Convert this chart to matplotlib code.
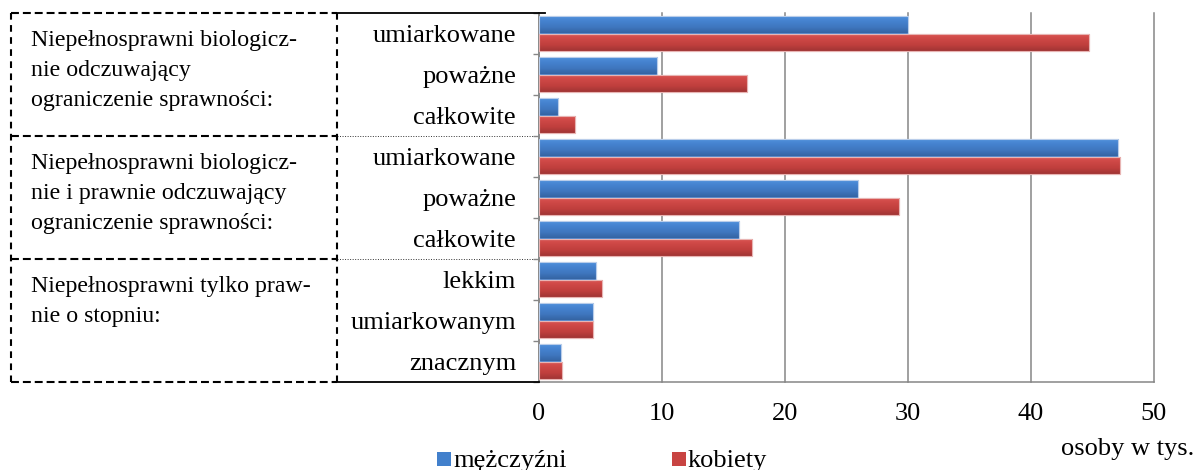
import numpy as np
import matplotlib
matplotlib.use("Agg")
import matplotlib.pyplot as plt
from matplotlib.colors import LinearSegmentedColormap
from matplotlib.lines import Line2D
from matplotlib.patches import Rectangle
import matplotlib.transforms as mtransforms

plt.rcParams['font.family'] = ['Liberation Serif', 'DejaVu Serif']

# ---------------- data ----------------
categories = ["umiarkowane", "poważne", "całkowite",
              "umiarkowane", "poważne", "całkowite",
              "lekkim", "umiarkowanym", "znacznym"]
men = [30.0, 9.6, 1.55, 47.1, 25.9, 16.3, 4.6, 4.4, 1.75]
women = [44.7, 16.9, 2.95, 47.25, 29.3, 17.35, 5.15, 4.4, 1.9]
series_labels = ["mężczyźni", "kobiety"]
group_labels = [
    "Niepełnosprawni biologicz-\nnie odczuwający\nograniczenie sprawności:",
    "Niepełnosprawni biologicz-\nnie i prawnie odczuwający\nograniczenie sprawności:",
    "Niepełnosprawni tylko praw-\nnie o stopniu:",
]
group_sizes = [3, 3, 3]
x_ticks = [0, 10, 20, 30, 40, 50]
x_unit = "osoby w tys."

# ---------------- figure ----------------
W, H = 1195, 470
fig = plt.figure(figsize=(W / 100, H / 100), dpi=100)
ax_l, ax_r, ax_t, ax_b = 539, 1154, 13, 382
ax = fig.add_axes([ax_l / W, 1 - ax_b / H, (ax_r - ax_l) / W, (ax_b - ax_t) / H])

n = len(categories)
y = np.arange(n)
h = 0.43
off = 0.215

blue_cmap = LinearSegmentedColormap.from_list("b", ["#5193de", "#4582cf", "#3f77bf", "#3564a3"])
red_cmap = LinearSegmentedColormap.from_list("r", ["#dc5653", "#cd4745", "#bf3f3d", "#a03434"])
grad = np.linspace(0, 1, 64).reshape(-1, 1)

bars_m = ax.barh(y - off, men, height=h, color="#4280cc", edgecolor="#b9cdea", linewidth=0.8, zorder=3)
bars_w = ax.barh(y + off, women, height=h, color="#c84442", edgecolor="#e8b4b3", linewidth=0.8, zorder=3)

for bars, cmap in ((bars_m, blue_cmap), (bars_w, red_cmap)):
    for b in bars:
        x0, y0 = b.get_x(), b.get_y()
        w, hh = b.get_width(), b.get_height()
        im = ax.imshow(grad, extent=(x0, x0 + w, y0 + hh, y0), origin="upper",
                       aspect="auto", cmap=cmap, zorder=3.5, interpolation="bilinear")
        im.set_clip_path(b)
        ax.add_patch(Rectangle((x0, y0), w, hh, fill=False, edgecolor=b.get_edgecolor(),
                               linewidth=0.8, zorder=4))

ax.set_xlim(0, 50)
ax.set_ylim(n - 0.5, -0.5)

ax.set_xticks(x_ticks)
ax.set_xticklabels([str(t) for t in x_ticks], fontsize=19)
ax.tick_params(axis="x", length=0, pad=15)
ax.grid(axis="x", color="#868686", linewidth=1.1, zorder=1)

ax.set_yticks(y)
ax.set_yticklabels(categories, fontsize=19)
ax.tick_params(axis="y", which="major", length=0, pad=16.5)
ax.set_yticks(np.arange(n + 1) - 0.5, minor=True)
ax.tick_params(axis="y", which="minor", length=4.5, width=1.0, color="#868686")

for s in ("top", "right"):
    ax.spines[s].set_visible(False)
for s in ("left", "bottom"):
    ax.spines[s].set_color("#868686")
    ax.spines[s].set_linewidth(1.1)
for gl in ax.get_xgridlines():
    gl.set_clip_on(False)

# ---------------- table on the left ----------------
trans_y = mtransforms.blended_transform_factory(fig.transFigure, ax.transData)
x_left, x_mid, x_axis = 11 / W, 337 / W, 539 / W
x_over = 545 / W

bounds = [-0.5]
for g in group_sizes:
    bounds.append(bounds[-1] + g)

dash_h = (0, (3.8, 1.9))
dash_v = (0, (3.2, 2.6))
for i, bnd in enumerate(bounds):
    fig.add_artist(Line2D([x_left, x_mid], [bnd, bnd], transform=trans_y, color="black",
                          linewidth=1.5, linestyle=dash_h))
    if i == 0:
        fig.add_artist(Line2D([x_mid, x_over], [bnd, bnd], transform=trans_y, color="black",
                              linewidth=1.3))
    elif i == len(bounds) - 1:
        fig.add_artist(Line2D([x_mid, x_axis], [bnd, bnd], transform=trans_y, color="black",
                              linewidth=1.3))
    else:
        fig.add_artist(Line2D([x_mid, 533 / W], [bnd, bnd], transform=trans_y, color="#333333",
                              linewidth=0.7, linestyle=(0, (1, 1.6))))
for xv in (x_left, x_mid):
    fig.add_artist(Line2D([xv, xv], [bounds[0], bounds[-1]], transform=trans_y, color="black",
                          linewidth=1.5, linestyle=dash_v))

for gi, label in enumerate(group_labels):
    for li, line in enumerate(label.split("\n")):
        tr = mtransforms.offset_copy(trans_y, fig=fig, x=0, y=-(33 + 30 * li), units="dots")
        fig.text(31 / W, bounds[gi], line, transform=tr, fontsize=17.2,
                 ha="left", va="baseline")

# ---------------- legend ----------------
colors_leg = ["#4280cc", "#c84442"]
leg_x = [437, 672]
for lx, c, lab in zip(leg_x, colors_leg, series_labels):
    fig.add_artist(Rectangle((lx / W, 1 - 466 / H), 14 / W, 14 / H, transform=fig.transFigure,
                             facecolor=c, edgecolor="none"))
    fig.text((lx + 16) / W, 1 - 467 / H, lab, fontsize=19, ha="left", va="baseline")

fig.text(1194 / W, 1 - 455 / H, x_unit, fontsize=19, ha="right", va="baseline")

fig.savefig("out.png", dpi=100)
